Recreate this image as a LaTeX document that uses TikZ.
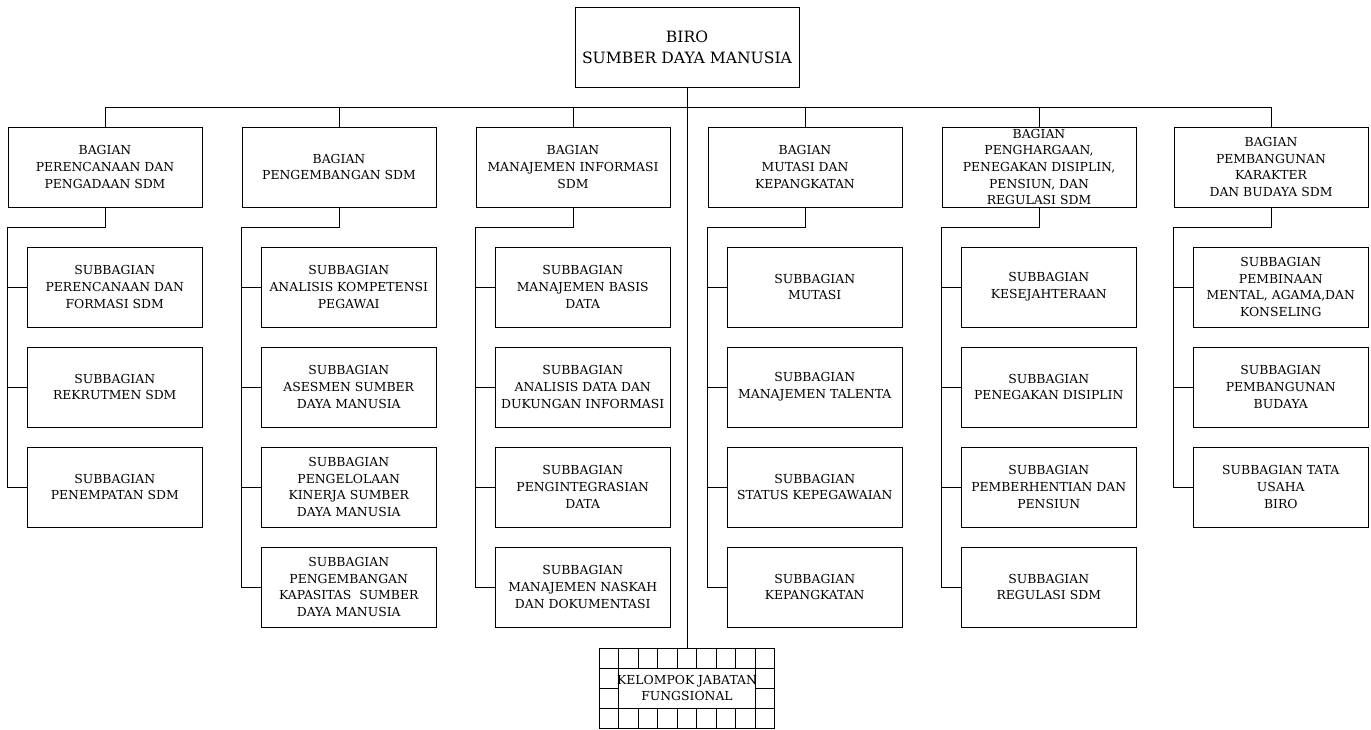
\documentclass[tikz,border=0pt]{standalone}
\usepackage{fontspec}
\setmainfont{DejaVu Serif}
\usetikzlibrary{positioning}

\tikzset{
	kotak/.style={draw, rectangle, inner sep=0pt, align=center, line width=0.7pt, font=\fontsize{9.3}{12.5}\selectfont},
	biro/.style={kotak, minimum width=168pt, minimum height=60pt, font=\fontsize{11.7}{15.5}\selectfont},
	bagian/.style={kotak, minimum width=145.5pt, minimum height=60pt},
	subbag/.style={kotak, minimum width=130.9pt, minimum height=60pt},
	garis/.style={line width=0.7pt}
}

\begin{document}
\begin{tikzpicture}[x=0.75pt,y=-0.75pt]
	\useasboundingbox (0,0) rectangle (1371,730);

	\node[biro] (biro) at (687,47) {BIRO\\SUMBER DAYA MANUSIA};

	\node[bagian] (bag1) at (105,167) {BAGIAN\\PERENCANAAN DAN\\PENGADAAN SDM};
	\node[bagian] (bag2) at (339,167) {BAGIAN\\PENGEMBANGAN SDM};
	\node[bagian] (bag3) at (573,167) {BAGIAN\\MANAJEMEN INFORMASI\\SDM};
	\node[bagian] (bag4) at (805,167) {BAGIAN\\MUTASI DAN\\KEPANGKATAN};
	\node[bagian] (bag5) at (1039,167) {BAGIAN\\PENGHARGAAN,\\PENEGAKAN DISIPLIN,\\PENSIUN, DAN\\REGULASI SDM};
	\node[bagian] (bag6) at (1271,167) {BAGIAN\\PEMBANGUNAN\\KARAKTER\\DAN BUDAYA SDM};

	\node[subbag] (sub1-1) at (114.75,287) {SUBBAGIAN\\PERENCANAAN DAN\\FORMASI SDM};
	\node[subbag] (sub1-2) at (114.75,387) {SUBBAGIAN\\REKRUTMEN SDM};
	\node[subbag] (sub1-3) at (114.75,487) {SUBBAGIAN\\PENEMPATAN SDM};

	\node[subbag] (sub2-1) at (348.75,287) {SUBBAGIAN\\ANALISIS KOMPETENSI\\PEGAWAI};
	\node[subbag] (sub2-2) at (348.75,387) {SUBBAGIAN\\ASESMEN SUMBER\\DAYA MANUSIA};
	\node[subbag] (sub2-3) at (348.75,487) {SUBBAGIAN\\PENGELOLAAN\\KINERJA SUMBER\\DAYA MANUSIA};
	\node[subbag] (sub2-4) at (348.75,587) {SUBBAGIAN\\PENGEMBANGAN\\KAPASITAS\ \ SUMBER\\DAYA MANUSIA};

	\node[subbag] (sub3-1) at (582.75,287) {SUBBAGIAN\\MANAJEMEN BASIS\\DATA};
	\node[subbag] (sub3-2) at (582.75,387) {SUBBAGIAN\\ANALISIS DATA DAN\\DUKUNGAN INFORMASI};
	\node[subbag] (sub3-3) at (582.75,487) {SUBBAGIAN\\PENGINTEGRASIAN\\DATA};
	\node[subbag] (sub3-4) at (582.75,587) {SUBBAGIAN\\MANAJEMEN NASKAH\\DAN DOKUMENTASI};

	\node[subbag] (sub4-1) at (814.75,287) {SUBBAGIAN\\MUTASI};
	\node[subbag] (sub4-2) at (814.75,387) {SUBBAGIAN\\MANAJEMEN TALENTA};
	\node[subbag] (sub4-3) at (814.75,487) {SUBBAGIAN\\STATUS KEPEGAWAIAN};
	\node[subbag] (sub4-4) at (814.75,587) {SUBBAGIAN\\KEPANGKATAN};

	\node[subbag] (sub5-1) at (1048.75,287) {SUBBAGIAN\\KESEJAHTERAAN};
	\node[subbag] (sub5-2) at (1048.75,387) {SUBBAGIAN\\PENEGAKAN DISIPLIN};
	\node[subbag] (sub5-3) at (1048.75,487) {SUBBAGIAN\\PEMBERHENTIAN DAN\\PENSIUN};
	\node[subbag] (sub5-4) at (1048.75,587) {SUBBAGIAN\\REGULASI SDM};

	\node[subbag] (sub6-1) at (1280.75,287) {SUBBAGIAN\\PEMBINAAN\\MENTAL, AGAMA,DAN\\KONSELING};
	\node[subbag] (sub6-2) at (1280.75,387) {SUBBAGIAN\\PEMBANGUNAN\\BUDAYA};
	\node[subbag] (sub6-3) at (1280.75,487) {SUBBAGIAN TATA\\USAHA\\BIRO};

	% kelompok jabatan fungsional
	\node[kotak, minimum width=131.25pt, minimum height=60pt] (kelompok) at (687,688) {};
	\foreach \c in {1,...,8}
		\draw[garis] ({599.5+\c*175/9},648) -- ({599.5+\c*175/9},728);
	\foreach \r in {1,2,3}
		\draw[garis] (599.5,{648+\r*20}) -- (774.5,{648+\r*20});
	\filldraw[garis, fill=white] ({599.5+175/9},668) rectangle ({774.5-175/9},708);
	\node[kotak, draw=none] (kelteks) at (kelompok.center) {KELOMPOK JABATAN\\FUNGSIONAL};

	% garis penghubung
	\coordinate (atas) at (687,107);
	\draw[garis] (biro.south) -- (kelompok.north);
	\foreach \i in {1,...,6}
		\draw[garis] (bag\i.north) |- (atas);
	\foreach \i/\n in {1/3,2/4,3/4,4/4,5/4,6/3} {
		\draw[garis] (bag\i.south) -- ++(0,20) -| (bag\i.west |- sub\i-\n.west) -- (sub\i-\n.west);
		\foreach \j in {1,...,\n}
			\draw[garis] (bag\i.west |- sub\i-\j.west) -- (sub\i-\j.west);
	}
\end{tikzpicture}
\end{document}
